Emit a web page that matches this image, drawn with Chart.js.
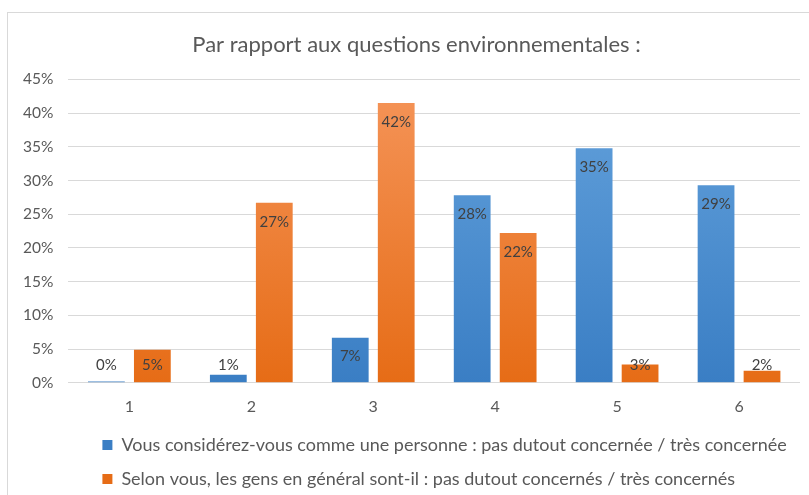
<!DOCTYPE html>
<html>
<head>
<meta charset="utf-8">
<script src="https://cdn.jsdelivr.net/npm/chart.js@4.4.1/dist/chart.umd.min.js"></script>
<style>
  html, body { margin: 0; padding: 0; background: #fff; overflow: hidden; }
  #frame { position: absolute; left: 7px; top: 12px; width: 850px; height: 520px; border: 1px solid #d9d9d9; }
  #wrap { position: absolute; left: 0; top: 0; width: 817px; height: 495px; }
</style>
</head>
<body>
<div id="frame"><div id="wrap"><canvas id="chart"></canvas></div></div>
<script>
const categories = ['1', '2', '3', '4', '5', '6'];
const personne = [0.2, 1.2, 6.7, 27.8, 34.8, 29.3];
const gens = [4.9, 26.7, 41.5, 22.2, 2.7, 1.8];
const seriesNames = [
  'Vous considérez-vous comme une personne : pas dutout concernée / très concernée',
  'Selon vous, les gens en général sont-il : pas dutout concernés / très concernés'
];
const yMax = 45;
const yStep = 5;

const FONT = 'Lato, "Open Sans", sans-serif';
const GREY = '#595959';

function gradient(top, bottom) {
  return (c) => {
    const area = c.chart.chartArea;
    if (!area) return bottom;
    const g = c.chart.ctx.createLinearGradient(0, area.top, 0, area.bottom);
    g.addColorStop(0, top);
    g.addColorStop(1, bottom);
    return g;
  };
}

// pourcentages dans le haut des barres (au-dessus si la barre est trop courte)
const barLabels = {
  id: 'barLabels',
  afterDatasetsDraw(chart) {
    const ctx = chart.ctx;
    const base = chart.scales.y.getPixelForValue(0);
    ctx.save();
    ctx.font = '15px ' + FONT;
    ctx.fillStyle = '#404040';
    ctx.textAlign = 'center';
    ctx.textBaseline = 'middle';
    chart.data.datasets.forEach((ds, i) => {
      chart.getDatasetMeta(i).data.forEach((bar, j) => {
        const y = Math.min(bar.y + 19, base - 18);
        ctx.fillText(Math.round(ds.data[j]) + '%', bar.x, y);
      });
    });
    ctx.restore();
  }
};

// legend rows sit closer to the axis and further right than chart.js puts them
const legendShift = {
  id: 'legendShift',
  afterLayout(chart) {
    chart.legend.left += 18;
    chart.legend.right += 18;
    chart.legend.top -= 10;
    chart.legend.bottom -= 10;
  }
};

new Chart(document.getElementById('chart'), {
  type: 'bar',
  data: {
    labels: categories,
    datasets: [
      { label: seriesNames[0], data: personne, backgroundColor: gradient('#64a2dc', '#3a7ec4'),
        categoryPercentage: 0.754, barPercentage: 0.8 },
      { label: seriesNames[1], data: gens, backgroundColor: gradient('#f5955a', '#e66c16'),
        categoryPercentage: 0.754, barPercentage: 0.8 }
    ]
  },
  options: {
    responsive: true,
    maintainAspectRatio: false,
    animation: false,
    layout: { padding: 0 },
    plugins: {
      title: {
        display: true,
        text: 'Par rapport aux questions environnementales :',
        color: GREY,
        font: { family: FONT, size: 22, weight: 'normal' },
        padding: { top: 19, bottom: 21 }
      },
      legend: {
        position: 'bottom',
        align: 'start',
        fullSize: false,
        labels: {
          color: GREY,
          font: { family: FONT, size: 18 },
          boxWidth: 10,
          boxHeight: 10,
          padding: 16
        }
      },
      tooltip: { enabled: false }
    },
    scales: {
      x: {
        grid: { display: false, drawTicks: false },
        border: { display: false },
        ticks: { color: GREY, font: { family: FONT, size: 16 }, padding: 14 }
      },
      y: {
        min: 0,
        max: yMax,
        border: { display: false },
        grid: { color: '#d9d9d9', drawTicks: false },
        ticks: {
          stepSize: yStep,
          color: GREY,
          padding: 15,
          font: { family: FONT, size: 15.5 },
          callback: (v) => v + '%'
        }
      },
      // empty right margin, so the title stays centred on the whole frame
      marge: {
        type: 'linear',
        position: 'right',
        grid: { display: false, drawTicks: false },
        border: { display: false },
        ticks: { display: false },
        afterFit: (s) => { s.width = 25; }
      }
    }
  },
  plugins: [barLabels, legendShift]
});
</script>
</body>
</html>
